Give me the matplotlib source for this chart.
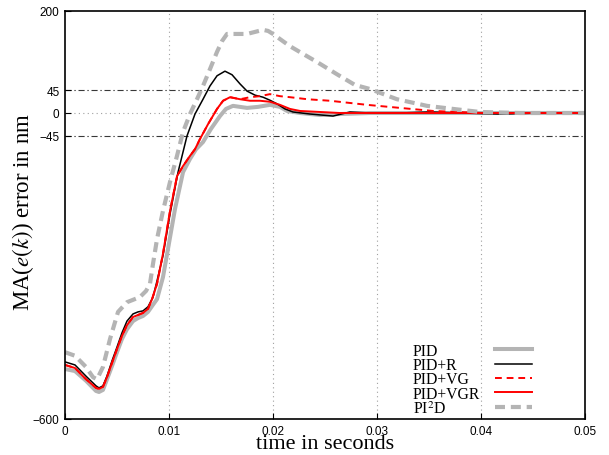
import matplotlib
matplotlib.use("Agg")
import matplotlib.pyplot as plt

# time (s) and MA(e(k)) error (nm)
t_pid = [0, 0.00096, 0.00202, 0.00298, 0.00327, 0.00365, 0.00404, 0.00452, 0.0050, 0.00548,
         0.00596, 0.00654, 0.00702, 0.0075, 0.00798, 0.00846, 0.00885, 0.00942, 0.0099, 0.01058,
         0.01135, 0.01202, 0.0126, 0.01327, 0.01404, 0.0149, 0.01548, 0.01615, 0.01683, 0.0175,
         0.01856, 0.01971, 0.02067, 0.02135, 0.0226, 0.02452, 0.02644, 0.02933, 0.0322, 0.037,
         0.0418, 0.05]
y_pid = [-502, -506, -525, -545, -547, -543, -522, -496, -469, -443,
         -424, -408, -402, -398, -390, -376, -365, -322, -267, -188,
         -116, -90, -71, -57, -31, -6, 8, 14, 12, 10,
         12, 16, 12, 4, 0, -4, -2, 0, 0, 0,
         0, 0]

t_pidr = [0, 0.00096, 0.00202, 0.00298, 0.00327, 0.00365, 0.00404, 0.00452, 0.0050, 0.00548,
          0.00596, 0.00654, 0.00702, 0.0075, 0.00798, 0.00846, 0.00885, 0.00942, 0.01010, 0.01087,
          0.01173, 0.0125, 0.01327, 0.01394, 0.01462, 0.01538, 0.01606, 0.01683, 0.0175, 0.01827,
          0.01904, 0.01971, 0.02038, 0.02115, 0.02192, 0.02356, 0.02577, 0.0274, 0.02933, 0.0322,
          0.0351, 0.038, 0.0418, 0.0457, 0.05]
y_pidr = [-488, -494, -516, -535, -539, -535, -516, -486, -459, -431,
          -408, -394, -390, -388, -380, -361, -329, -280, -198, -116,
          -45, -2, 27, 53, 73, 82, 75, 57, 43, 35,
          31, 25, 18, 8, 2, -2, -6, 2, 0, 0,
          2, 0, -2, 0, 0]

t_vg = [0, 0.00096, 0.00202, 0.00298, 0.00327, 0.00365, 0.00404, 0.00452, 0.0050, 0.00548,
        0.00596, 0.00654, 0.00702, 0.0075, 0.00798, 0.00837, 0.00885, 0.00942, 0.01010, 0.01077,
        0.01135, 0.01202, 0.0125, 0.01298, 0.01375, 0.01462, 0.0152, 0.01587, 0.01683, 0.01779,
        0.01875, 0.01971, 0.02067, 0.02163, 0.0233, 0.02548, 0.02904, 0.03221, 0.0354, 0.03769,
        0.04, 0.05]
y_vg = [-494, -500, -522, -539, -541, -537, -518, -490, -463, -437,
        -416, -400, -396, -392, -384, -365, -335, -276, -192, -124,
        -104, -84, -71, -51, -22, 8, 24, 31, 27, 31,
        33, 37, 33, 31, 27, 24, 16, 10, 4, 2,
        0, 0]

t_vgr = [0, 0.00096, 0.00202, 0.00298, 0.00327, 0.00365, 0.00404, 0.00452, 0.0050, 0.00548,
         0.00596, 0.00654, 0.00702, 0.0075, 0.00798, 0.00837, 0.00885, 0.00942, 0.01010, 0.01077,
         0.01135, 0.01202, 0.0125, 0.01298, 0.01375, 0.01462, 0.0152, 0.01587, 0.01683, 0.01779,
         0.01875, 0.01971, 0.02067, 0.02163, 0.02260, 0.02452, 0.02644, 0.05]
y_vgr = [-494, -500, -522, -539, -541, -537, -518, -490, -463, -437,
         -416, -400, -396, -392, -384, -365, -335, -276, -192, -124,
         -104, -84, -71, -51, -22, 8, 24, 31, 27, 24,
         24, 22, 16, 8, 4, 2, 0, 0]

t_pi2d = [0, 0.00096, 0.00202, 0.00269, 0.00308, 0.00365, 0.00433, 0.0051, 0.00596, 0.0072,
          0.00779, 0.00817, 0.00846, 0.00885, 0.00942, 0.01010, 0.01077, 0.01135, 0.01202, 0.01269,
          0.01327, 0.01394, 0.01462, 0.0151, 0.01558, 0.01654, 0.0175, 0.01827, 0.01904, 0.01952,
          0.02, 0.02067, 0.02163, 0.02288, 0.02423, 0.02615, 0.02788, 0.02933, 0.03192, 0.03481,
          0.03731, 0.0399, 0.0438, 0.05]
y_pi2d = [-469, -476, -498, -518, -522, -498, -443, -390, -371, -361,
          -349, -335, -296, -247, -192, -135, -84, -37, -2, 27,
          53, 86, 120, 141, 155, 155, 155, 159, 163, 161,
          155, 145, 131, 116, 100, 76, 55, 47, 27, 14,
          8, 2, 0, 0]

labels = ["PID", "PID+R", "PID+VG", "PID+VGR", "PI$^2$D"]
xticks = [0, 0.01, 0.02, 0.03, 0.04, 0.05]
xticklabels = ["0", "0.01", "0.02", "0.03", "0.04", "0.05"]
yticks = [-600, -45, 0, 45, 200]
yticklabels = ["\u2212600", "\u221245", "0", "45", "200"]

plt.rcParams['mathtext.fontset'] = 'stix'
fig = plt.figure(figsize=(6.09, 4.56), dpi=100)
ax = fig.add_axes([65/609, 36/456, 520/609, 408/456])

for xv in xticks[1:-1]:
    ax.axvline(xv, color='#a0a0a0', lw=0.8, ls=(0, (1, 3)), zorder=0)
ax.axhline(0, color='#a0a0a0', lw=0.8, ls=(0, (1, 3)), zorder=0)
for yv in (45, -45):
    ax.axhline(yv, color='#383838', lw=0.8, ls=(0, (5.5, 2.5, 1.2, 2.5)), zorder=0)

gray = '#b4b4b4'
ax.plot(t_pid, y_pid, color=gray, lw=2.9, label=labels[0])
ax.plot(t_pidr, y_pidr, color='black', lw=1.1, label=labels[1])
ax.plot(t_vg, y_vg, color='red', lw=1.4, ls=(0, (3.5, 2.5)), label=labels[2])
ax.plot(t_vgr, y_vgr, color='red', lw=1.4, label=labels[3])
ax.plot(t_pi2d, y_pi2d, color=gray, lw=3.0, ls=(0, (2.4, 1.4)), label=labels[4])

ax.set_xlim(0, 0.05)
ax.set_ylim(-600, 200)
ax.set_xticks(xticks)
ax.set_xticklabels(xticklabels, family='Liberation Sans', fontsize=8.5)
ax.set_yticks(yticks)
ax.set_yticklabels(yticklabels, family='Liberation Sans', fontsize=8.5)
ax.tick_params(direction='in', length=4, width=0.8)
ax.tick_params(axis='x', pad=4)
ax.tick_params(axis='y', pad=4)
for s in ax.spines.values():
    s.set_linewidth(1.2)

ax.set_xlabel("time in seconds", family='Liberation Serif', fontsize=16, labelpad=-1.5)
ax.set_ylabel("MA($e(k)$) error in nm", family='Liberation Serif', fontsize=16.5)
ax.yaxis.set_label_coords(-0.056, 0.51)

leg = ax.legend(loc='lower left', bbox_to_anchor=(0.669, 0.005), frameon=False,
                markerfirst=False, handlelength=2.36, labelspacing=-0.1,
                prop={'family': 'Liberation Serif', 'size': 11.3}, handletextpad=0.95,
                borderpad=0, borderaxespad=0)

# left-align legend labels while keeping the handles in one column
fig.canvas.draw()
renderer = fig.canvas.get_renderer()
col = leg._legend_handle_box.get_children()[0]
items = col.get_children()
widths = [tx.get_window_extent(renderer).width for tx in leg.get_texts()]
maxw = max(widths)
for item, w in zip(items, widths):
    item.sep = item.sep + (maxw - w) * 72.0 / fig.dpi
col.align = 'left'

fig.savefig("out.png", dpi=100)
